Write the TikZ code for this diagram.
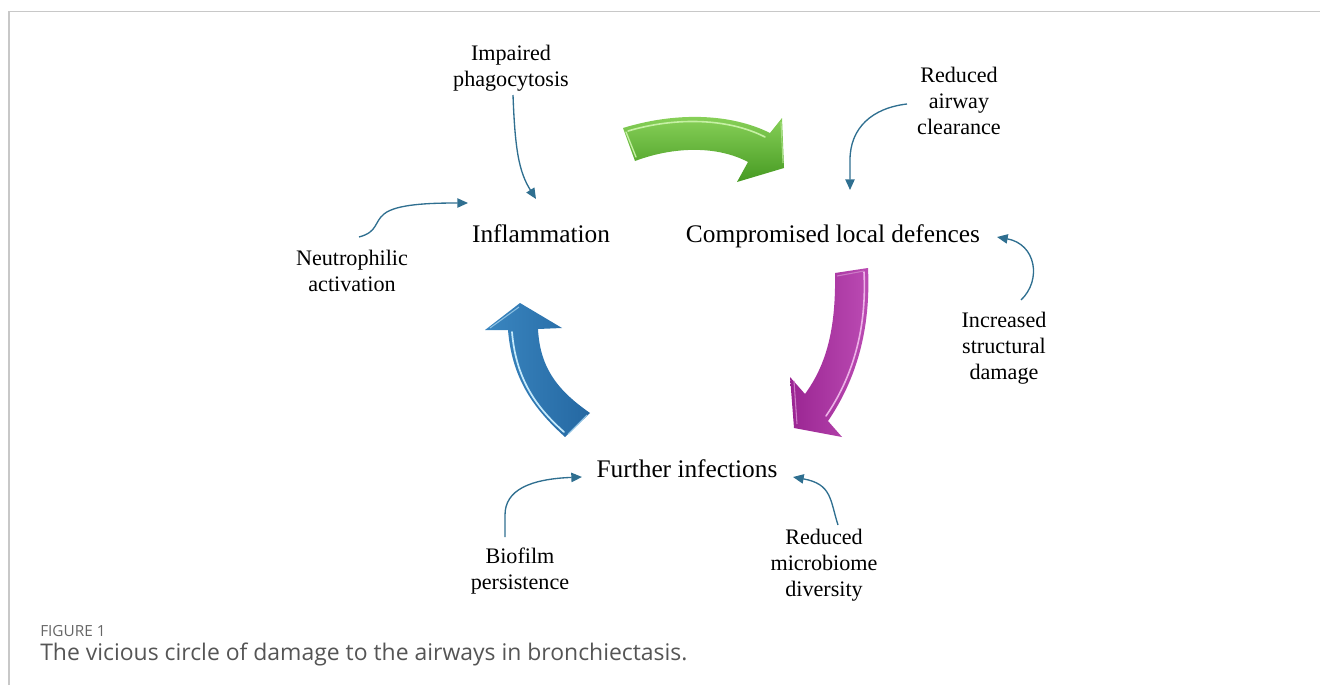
\documentclass[tikz,border=0pt]{standalone}
\usepackage{fontspec}
\setmainfont{Liberation Serif}
\newfontfamily\capfont{Open Sans}
\usetikzlibrary{arrows.meta,calc}
\definecolor{thinc}{HTML}{2F6F90}
\definecolor{frame}{HTML}{C8C8C8}
\definecolor{gTop}{HTML}{8CD45C}
\definecolor{gMid}{HTML}{5DB635}
\definecolor{gBot}{HTML}{469A22}
\definecolor{gHi}{HTML}{C6F0A4}
\definecolor{mLeft}{HTML}{9A2592}
\definecolor{mRight}{HTML}{BC4CB4}
\definecolor{mHi}{HTML}{EDB2E8}
\definecolor{bLeft}{HTML}{3A86C0}
\definecolor{bRight}{HTML}{2568A2}
\definecolor{bHi}{HTML}{C4E9FB}
\definecolor{capgray}{HTML}{555555}
\definecolor{figgray}{HTML}{666666}
\begin{document}
\begin{tikzpicture}[x=0.75pt,y=-0.75pt,
  mainlbl/.style={font=\fontsize{19}{22}\selectfont, inner sep=0pt, anchor=base},
  sidelbl/.style={font=\fontsize{16.6}{19.5}\selectfont, align=center, inner sep=0pt, anchor=base},
  feed/.style={draw=thinc, line width=1pt, -{Triangle[length=8pt,width=7pt]}}
]
\useasboundingbox (0,0) rectangle (1320,685);
% frame
\draw[frame, line width=1.1pt] (9,685) -- (9,11.5) -- (1320,11.5);

% main labels
\node[mainlbl] (infl) at (541,242) {Inflammation};
\node[mainlbl] (comp) at (833,242) {Compromised local defences};
\node[mainlbl] (furth) at (687,477) {Further infections};

% side labels (anchored at the baseline of the last line)
\node[sidelbl] (phag) at (511,86) {Impaired\\phagocytosis};
\node[sidelbl] (clear) at (959,134) {Reduced\\airway\\clearance};
\node[sidelbl] (neut) at (352,291) {Neutrophilic\\activation};
\node[sidelbl] (struct) at (1004,379) {Increased\\structural\\damage};
\node[sidelbl] (bio) at (520,589) {Biofilm\\persistence};
\node[sidelbl] (micro) at (824,596) {Reduced\\microbiome\\diversity};

% end points of the feeding arrows
\coordinate (eInfl1) at (536,199);
\coordinate (eInfl2) at (468,203);
\coordinate (eComp1) at (850,190);
\coordinate (eComp2) at (997,237);
\coordinate (eFur1) at (582,477);
\coordinate (eFur2) at (793,477);

\draw[feed] ($(phag.base)+(2,9)$) .. controls (515,150) and (519,172) .. (eInfl1);
\draw[feed] ($(clear.base)+(-52,-30)$) .. controls (872,108) and (850,128) .. (850,160) -- (eComp1);
\draw[feed] ($(neut.base)+(7,-54)$) .. controls (378,232) and (374,222) .. (384,214) .. controls (396,204) and (430,203) .. (eInfl2);
\draw[feed] ($(struct.base)+(17,-79)$) .. controls (1042,280) and (1036,244) .. (eComp2);
\draw[feed] ($(bio.base)+(-15,-52)$) -- (505,515) .. controls (505,490) and (530,479) .. (eFur1);
\draw[feed] ($(micro.base)+(14,-71)$) .. controls (830,500) and (832,484) .. (eFur2);

% green arrow (Inflammation -> Compromised local defences)
\shade[top color=gTop, middle color=gMid, bottom color=gBot]
  (623,128) .. controls (675,112) and (730,113) .. (770,133)
  -- (782,118) -- (784,168) -- (737,182) -- (748,162)
  .. controls (718,146) and (675,146) .. (635,161) -- cycle;
\draw[gHi, line width=1.2pt, line cap=round] (628,131) .. controls (675,117) and (728,118) .. (765,137);
\draw[gHi, line width=1pt, line cap=round] (626,132) -- (636,157);
\draw[gHi!70!gMid, line width=0.8pt] (781,122) -- (783,163);

% magenta arrow (Compromised local defences -> Further infections)
\shade[left color=mLeft, right color=mRight]
  (835,273) -- (868,268)
  .. controls (871,330) and (856,380) .. (828,421)
  -- (842,437) -- (794,428) -- (790,377) -- (805,394)
  .. controls (826,365) and (836,330) .. cycle;
\draw[mHi, line width=1.2pt, line cap=round] (864,272) .. controls (867,330) and (852,378) .. (826,416);
\draw[mHi!60!mLeft, line width=0.8pt] (837,276) -- (864,271);
\draw[mHi!60!mLeft, line width=0.8pt] (794,381) -- (797,424);

% blue arrow (Further infections -> Inflammation)
\shade[left color=bLeft, right color=bRight]
  (520,303) -- (562,328) -- (538,329)
  .. controls (540,370) and (560,392) .. (590,413)
  -- (565,437)
  .. controls (535,410) and (512,380) .. (508,330)
  -- (485,330) -- cycle;
\draw[bHi, line width=1.3pt, line cap=round] (512,332) .. controls (516,380) and (537,408) .. (564,432);
\draw[bHi!60!bLeft, line width=0.8pt] (568,434) -- (587,415);
\draw[bHi!60!bLeft, line width=0.8pt] (490,328) -- (519,307);

% caption
\node[anchor=base west, inner sep=0pt, text=figgray, font=\capfont\fontsize{11.5}{13}\selectfont] (fig) at (40,636) {FIGURE 1};
\node[anchor=base west, inner sep=0pt, text=capgray, font=\capfont\fontsize{17.2}{20}\selectfont] (cap) at (40,660) {The vicious circle of damage to the airways in bronchiectasis.};
\end{tikzpicture}
\end{document}
